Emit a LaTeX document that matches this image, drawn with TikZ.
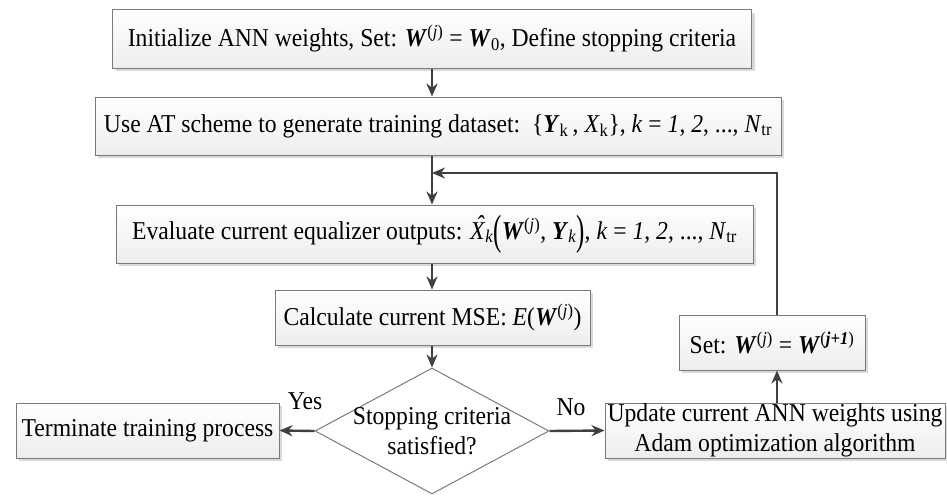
\documentclass[tikz,border=0pt]{standalone}
\usepackage{fontspec}
\usepackage{graphicx}
\setmainfont{Liberation Serif}[FakeStretch=0.92]
\usetikzlibrary{arrows.meta,shapes.geometric,shadows}
\definecolor{arrowc}{HTML}{404040}
\definecolor{borderc}{HTML}{7a7a7a}
\newcommand{\bW}{\textbf{\textit{W}}}
\newcommand{\bY}{\textbf{\textit{Y}}}
\newcommand{\supj}{\textsuperscript{(\textit{j})}}
\newcommand{\lpar}{\raisebox{-0.2em}{\scalebox{1.05}[1.65]{(}}}
\newcommand{\rpar}{\raisebox{-0.2em}{\scalebox{1.05}[1.65]{)}}}
\newcommand{\hatX}{\textit{\rlap{\hspace{0.22em}\raisebox{0.2em}{^^^^02c6}}X}}
\begin{document}
\begin{tikzpicture}[x=1pt,y=-1pt,font=\fontsize{25.7}{30}\selectfont,
  box/.style={draw=borderc, line width=1pt, top color=white, bottom color=gray!14,
    drop shadow={shadow xshift=3pt, shadow yshift=-3pt, fill=gray!30, opacity=1},
    inner sep=0pt, align=center},
  dia/.style={diamond, draw=borderc, line width=1pt, fill=white, inner sep=0pt},
  arr/.style={draw=arrowc, line width=2.4pt, -{Stealth[length=13pt,width=11pt]}},
  ln/.style={draw=arrowc, line width=2.4pt}]
\fill[white] (0,0) rectangle (947,495);
\useasboundingbox (0,0) rectangle (947,495);

\node[box, minimum width=639, minimum height=58] (b1) at (432,39)
  {Initialize ANN weights, Set: \bW\supj{} = \bW\textsubscript{0}, Define stopping criteria};
\node[box, minimum width=686, minimum height=58] (b2) at (438,126)
  {Use AT scheme to generate training dataset:\ \ \{\bY\textsubscript{k}\,, \textit{X}\textsubscript{k}\}, \textit{k} = \textit{1}, \textit{2}, ..., \textit{N}\textsubscript{tr}};
\node[box, minimum width=637, minimum height=58] (b3) at (434.5,234)
  {Evaluate current equalizer outputs: \hatX\textsubscript{\textit{k}}\lpar\bW\supj, \bY\textsubscript{\textit{k}}\rpar, \textit{k} = \textit{1}, \textit{2}, ..., \textit{N}\textsubscript{tr}};
\node[box, minimum width=315, minimum height=55] (b4) at (432.5,317.5)
  {Calculate current MSE: \textit{E}(\bW\supj)};
\node[dia, minimum width=234, minimum height=126] (d) at (432,431) {};
\node[align=center, inner sep=0pt] (dt) at (d) {Stopping criteria\\satisfied?};
\node[box, minimum width=263, minimum height=55] (term) at (147.5,430.5)
  {Terminate training process};
\node[box, minimum width=340, minimum height=55] (upd) at (775,430.5)
  {Update current ANN weights using\\Adam optimization algorithm};
\node[box, minimum width=186, minimum height=55] (set) at (772,342.5)
  {Set: \bW\supj{} = \bW\textsuperscript{(\textbf{\textit{j+1}})}};
\node (yes) at (305,401) {Yes};
\node (no) at (571,407) {No};

\coordinate (j) at (432,173);
\coordinate (fb) at (777,173);

\draw[arr] (b1.south -| j) -- (b2.north -| j);
\draw[ln] (b2.south -| j) -- (j);
\draw[arr] (j) -- (b3.north -| j);
\draw[arr] (b3.south -| j) -- (b4.north -| j);
\draw[arr] (b4.south -| j) -- (d.north);
\draw[arr] (d.west) -- (term.east);
\draw[arr] (d.east) -- (upd.west);
\draw[arr] (upd.north -| fb) -- (set.south -| fb);
\draw[arr] (set.north -| fb) -- (fb) -- (j);
\end{tikzpicture}
\end{document}
